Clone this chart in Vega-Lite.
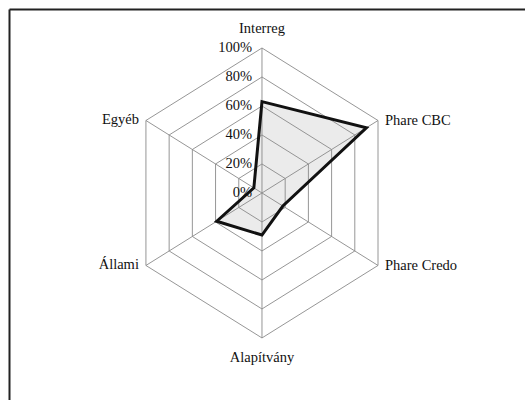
{
  "$schema": "https://vega.github.io/schema/vega-lite/v6.json",
  "autosize": "none",
  "padding": {"left": 9, "top": 9, "right": 0, "bottom": 0},
  "width": 516,
  "height": 391,
  "background": "white",
  "config": {
    "view": {"stroke": null},
    "font": "Liberation Serif"
  },
  "datasets": {
    "values": [
      {"axis": "Interreg", "k": 0, "value": 0.63},
      {"axis": "Phare CBC", "k": 1, "value": 0.90},
      {"axis": "Phare Credo", "k": 2, "value": 0.18},
      {"axis": "Alapítvány", "k": 3, "value": 0.29},
      {"axis": "Állami", "k": 4, "value": 0.39},
      {"axis": "Egyéb", "k": 5, "value": 0.07}
    ],
    "axes": [
      {"axis": "Interreg", "k": 0, "levels": [0.2, 0.4, 0.6, 0.8, 1.0], "spoke": [0, 1]},
      {"axis": "Phare CBC", "k": 1, "levels": [0.2, 0.4, 0.6, 0.8, 1.0], "spoke": [0, 1]},
      {"axis": "Phare Credo", "k": 2, "levels": [0.2, 0.4, 0.6, 0.8, 1.0], "spoke": [0, 1]},
      {"axis": "Alapítvány", "k": 3, "levels": [0.2, 0.4, 0.6, 0.8, 1.0], "spoke": [0, 1]},
      {"axis": "Állami", "k": 4, "levels": [0.2, 0.4, 0.6, 0.8, 1.0], "spoke": [0, 1]},
      {"axis": "Egyéb", "k": 5, "levels": [0.2, 0.4, 0.6, 0.8, 1.0], "spoke": [0, 1]}
    ],
    "ticks": [
      {"label": "0%", "level": 0},
      {"label": "20%", "level": 0.2},
      {"label": "40%", "level": 0.4},
      {"label": "60%", "level": 0.6},
      {"label": "80%", "level": 0.8},
      {"label": "100%", "level": 1.0}
    ]
  },
  "layer": [
    {
      "data": {"name": "values"},
      "transform": [
        {"calculate": "datum.value * sin(datum.k * PI / 3)", "as": "px"},
        {"calculate": "datum.value * cos(datum.k * PI / 3)", "as": "py"}
      ],
      "mark": {"type": "line", "interpolate": "linear-closed", "fill": "#ebebeb", "strokeOpacity": 0},
      "encoding": {
        "x": {"field": "px", "type": "quantitative", "scale": {"domain": [-1.888, 1.963], "nice": false, "zero": false}, "axis": {"orient": "top", "title": null, "labels": false, "ticks": false, "grid": false, "domainColor": "#222", "domainWidth": 2}},
        "y": {"field": "py", "type": "quantitative", "scale": {"domain": [-1.428, 1.269], "nice": false, "zero": false}, "axis": {"orient": "left", "title": null, "labels": false, "ticks": false, "grid": false, "domainColor": "#222", "domainWidth": 2}},
        "order": {"field": "k", "type": "quantitative"}
      }
    },
    {
      "data": {"name": "axes"},
      "transform": [
        {"flatten": ["levels"], "as": ["level"]},
        {"calculate": "datum.level * sin(datum.k * PI / 3)", "as": "px"},
        {"calculate": "datum.level * cos(datum.k * PI / 3)", "as": "py"}
      ],
      "mark": {"type": "line", "interpolate": "linear-closed", "color": "#8a8a8a", "strokeWidth": 0.9},
      "encoding": {
        "x": {"field": "px", "type": "quantitative"},
        "y": {"field": "py", "type": "quantitative"},
        "detail": {"field": "level", "type": "nominal"},
        "order": {"field": "k", "type": "quantitative"}
      }
    },
    {
      "data": {"name": "axes"},
      "transform": [
        {"flatten": ["spoke"], "as": ["r"]},
        {"calculate": "datum.r * sin(datum.k * PI / 3)", "as": "px"},
        {"calculate": "datum.r * cos(datum.k * PI / 3)", "as": "py"}
      ],
      "mark": {"type": "line", "color": "#8a8a8a", "strokeWidth": 0.9},
      "encoding": {
        "x": {"field": "px", "type": "quantitative"},
        "y": {"field": "py", "type": "quantitative"},
        "detail": {"field": "axis", "type": "nominal"},
        "order": {"field": "r", "type": "quantitative"}
      }
    },
    {
      "data": {"name": "values"},
      "transform": [
        {"calculate": "datum.value * sin(datum.k * PI / 3)", "as": "px"},
        {"calculate": "datum.value * cos(datum.k * PI / 3)", "as": "py"}
      ],
      "mark": {"type": "line", "interpolate": "linear-closed", "color": "#111", "strokeWidth": 3, "strokeJoin": "miter"},
      "encoding": {
        "x": {"field": "px", "type": "quantitative"},
        "y": {"field": "py", "type": "quantitative"},
        "order": {"field": "k", "type": "quantitative"}
      }
    },
    {
      "data": {"name": "ticks"},
      "transform": [
        {"calculate": "0", "as": "px"}
      ],
      "mark": {"type": "text", "align": "right", "baseline": "middle", "dx": -10, "font": "Liberation Serif", "fontSize": 14.5, "color": "#111"},
      "encoding": {
        "x": {"field": "px", "type": "quantitative"},
        "y": {"field": "level", "type": "quantitative"},
        "text": {"field": "label", "type": "nominal"}
      }
    },
    {
      "data": {"name": "axes"},
      "transform": [
        {"filter": "datum.k == 0"},
        {"calculate": "sin(datum.k * PI / 3)", "as": "px"},
        {"calculate": "cos(datum.k * PI / 3)", "as": "py"}
      ],
      "mark": {"type": "text", "align": "center", "baseline": "middle", "dy": -19, "font": "Liberation Serif", "fontSize": 14.5, "color": "#111"},
      "encoding": {
        "x": {"field": "px", "type": "quantitative"},
        "y": {"field": "py", "type": "quantitative"},
        "text": {"field": "axis", "type": "nominal"}
      }
    },
    {
      "data": {"name": "axes"},
      "transform": [
        {"filter": "datum.k == 3"},
        {"calculate": "sin(datum.k * PI / 3)", "as": "px"},
        {"calculate": "cos(datum.k * PI / 3)", "as": "py"}
      ],
      "mark": {"type": "text", "align": "center", "baseline": "middle", "dy": 20, "font": "Liberation Serif", "fontSize": 14.5, "color": "#111"},
      "encoding": {
        "x": {"field": "px", "type": "quantitative"},
        "y": {"field": "py", "type": "quantitative"},
        "text": {"field": "axis", "type": "nominal"}
      }
    },
    {
      "data": {"name": "axes"},
      "transform": [
        {"filter": "datum.k == 1 || datum.k == 2"},
        {"calculate": "sin(datum.k * PI / 3)", "as": "px"},
        {"calculate": "cos(datum.k * PI / 3)", "as": "py"}
      ],
      "mark": {"type": "text", "align": "left", "baseline": "middle", "dx": 7, "dy": 1, "font": "Liberation Serif", "fontSize": 14.5, "color": "#111"},
      "encoding": {
        "x": {"field": "px", "type": "quantitative"},
        "y": {"field": "py", "type": "quantitative"},
        "text": {"field": "axis", "type": "nominal"}
      }
    },
    {
      "data": {"name": "axes"},
      "transform": [
        {"filter": "datum.k == 4 || datum.k == 5"},
        {"calculate": "sin(datum.k * PI / 3)", "as": "px"},
        {"calculate": "cos(datum.k * PI / 3)", "as": "py"}
      ],
      "mark": {"type": "text", "align": "right", "baseline": "middle", "dx": -7, "font": "Liberation Serif", "fontSize": 14.5, "color": "#111"},
      "encoding": {
        "x": {"field": "px", "type": "quantitative"},
        "y": {"field": "py", "type": "quantitative"},
        "text": {"field": "axis", "type": "nominal"}
      }
    }
  ]
}
